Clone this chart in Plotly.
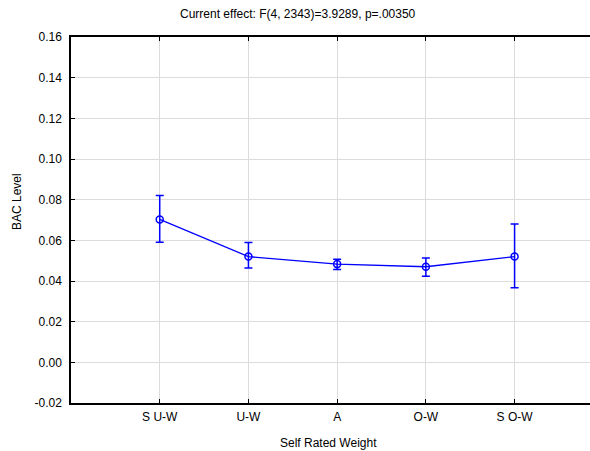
import plotly.graph_objects as go

categories = ["S U-W", "U-W", "A", "O-W", "S O-W"]
means = [0.0703, 0.0520, 0.0483, 0.0470, 0.0520]
upper = [0.0821, 0.0589, 0.0507, 0.0513, 0.0680]
lower = [0.0590, 0.0464, 0.0457, 0.0423, 0.0367]
y_ticks = [-0.02, 0.00, 0.02, 0.04, 0.06, 0.08, 0.10, 0.12, 0.14, 0.16]
y_tick_labels = ["-0.02", "0.00", "0.02", "0.04", "0.06", "0.08", "0.10", "0.12", "0.14", "0.16"]

xpos = list(range(1, len(categories) + 1))
err_plus = [u - m for u, m in zip(upper, means)]
err_minus = [m - l for m, l in zip(means, lower)]

blue = "#0000ff"
font = "Liberation Sans, Arial, sans-serif"
fs = 12

fig = go.Figure()
fig.add_trace(go.Scatter(
    x=xpos, y=means, mode="lines+markers",
    line=dict(color=blue, width=1.3),
    marker=dict(symbol="circle-open", size=7, color=blue, line=dict(width=1.5, color=blue)),
    error_y=dict(type="data", symmetric=False, array=err_plus, arrayminus=err_minus,
                 color=blue, thickness=1.5, width=4),
    showlegend=False,
))

fig.update_layout(
    width=590, height=451,
    margin=dict(l=71, r=0, t=37, b=48),
    paper_bgcolor="white", plot_bgcolor="white",
    font=dict(family=font, size=fs, color="black"),
    xaxis=dict(
        range=[0, 5.85], tickvals=xpos, ticktext=categories,
        showgrid=True, gridcolor="#dcdcdc", gridwidth=1,
        showline=True, linecolor="black", linewidth=1.5, mirror="ticks",
        ticks="inside", ticklen=4, tickcolor="black", zeroline=False,
        tickfont=dict(size=fs, family=font, color="black"),
        ticklabelstandoff=2,
    ),
    yaxis=dict(
        range=[-0.02, 0.16], tickvals=y_ticks, ticktext=y_tick_labels,
        showgrid=True, gridcolor="#dcdcdc", gridwidth=1,
        showline=True, linecolor="black", linewidth=1.5,
        ticks="inside", ticklen=4, tickcolor="black", zeroline=False,
        tickfont=dict(size=fs, family=font, color="black"),
        ticklabelstandoff=5,
    ),
    annotations=[
        dict(text="Current effect: F(4, 2343)=3.9289, p=.00350", xref="paper", yref="paper",
             x=(298 - 71) / 519, y=(403 - 14) / 366, xanchor="center", yanchor="middle",
             showarrow=False, font=dict(size=fs, family=font, color="black")),
        dict(text="Self Rated Weight", xref="paper", yref="paper",
             x=(328 - 71) / 519, y=(403 - 443) / 366, xanchor="center", yanchor="middle",
             showarrow=False, font=dict(size=fs, family=font, color="black")),
        dict(text="BAC Level", xref="paper", yref="paper", textangle=-90,
             x=(17 - 71) / 519, y=(403 - 202) / 366, xanchor="center", yanchor="middle",
             showarrow=False, font=dict(size=fs, family=font, color="black")),
    ],
)

fig.write_html("out.html")
